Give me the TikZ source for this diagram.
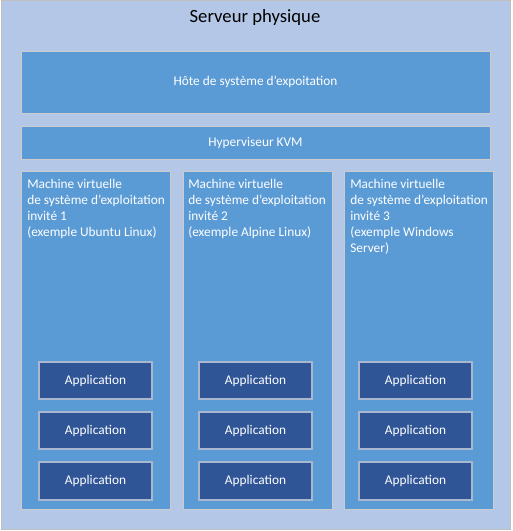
\documentclass[tikz,border=0pt]{standalone}
\usepackage{fontspec}
\setmainfont{Carlito}
\usetikzlibrary{fit}
\definecolor{bgblue}{HTML}{B4C7E7}
\definecolor{midblue}{HTML}{5B9BD5}
\definecolor{darkblue}{HTML}{2F5597}
\definecolor{edgegray}{HTML}{BFBFBF}
\definecolor{appedge}{HTML}{A9B8D0}
\tikzset{
  outerbox/.style={draw=edgegray, fill=bgblue, line width=0.75pt, inner sep=0pt},
  layerbox/.style={draw=edgegray!80, fill=midblue, line width=0.6pt, inner sep=0pt},
  appbox/.style={draw=appedge, fill=darkblue, line width=0.9pt, inner sep=0pt},
  lbl/.style={inner sep=0pt, text=white, font=\fontsize{10}{12}\selectfont},
  vmtext/.style={anchor=north west, inner sep=0pt, text=white, align=left,
     font=\fontsize{10}{12}\selectfont},
  titletext/.style={font=\fontsize{14}{17}\selectfont, text=black}
}
\begin{document}
\begin{tikzpicture}[x=0.75pt,y=-0.75pt]
\useasboundingbox (0,0) rectangle (512,531);
\node[outerbox, fit={(1,1)(510,529)}] (server) {};
\node[titletext] (title) at (255,18) {Serveur physique};
\node[layerbox, fit={(21,51)(490,113)}] (host) {};
\node[lbl] (hostt) at (host.center) {Hôte de système d’expoitation};
\node[layerbox, fit={(21,126)(490,159)}] (kvm) {};
\node[lbl] (kvmt) at (kvm.center) {Hyperviseur KVM};
% VMs
\node[layerbox, fit={(21,171)(170,509)}] (vm1) {};
\node[layerbox, fit={(183,171)(332,509)}] (vm2) {};
\node[layerbox, fit={(344,171)(493,509)}] (vm3) {};
\node[vmtext] (vm1t) at (27,179) {Machine virtuelle\\de système d’exploitation\\invité 1\\(exemple Ubuntu Linux)};
\node[vmtext] (vm2t) at (188,179) {Machine virtuelle\\de système d’exploitation\\invité 2\\(exemple Alpine Linux)};
\node[vmtext] (vm3t) at (350,179) {Machine virtuelle\\de système d’exploitation\\invité 3\\(exemple Windows\\Server)};
% Applications
\foreach \col/\xa/\xb in {1/39/152, 2/199/312, 3/359/472}{
  \node[appbox, fit={(\xa,362)(\xb,399)}] (app\col a) {};
  \node[lbl] at (app\col a.center) {Application};
  \node[appbox, fit={(\xa,412)(\xb,449)}] (app\col b) {};
  \node[lbl] at (app\col b.center) {Application};
  \node[appbox, fit={(\xa,462)(\xb,500)}] (app\col c) {};
  \node[lbl] at (app\col c.center) {Application};
}
\end{tikzpicture}
\end{document}
